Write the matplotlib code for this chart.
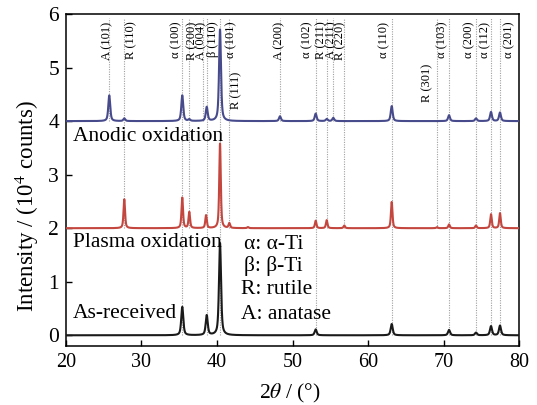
import numpy as np
import matplotlib
matplotlib.use("Agg")
import matplotlib.pyplot as plt

plt.rcParams['font.family'] = ['Liberation Serif', 'DejaVu Serif']
plt.rcParams['mathtext.fontset'] = 'stix'

# ---- data ----
# stacked offsets of each pattern (10^4 counts)
offset_anodic = 4.0
offset_plasma = 2.0
offset_asrec = 0.0

asrec_pos = [35.40, 38.64, 40.40, 53.07, 63.14, 70.73, 74.30, 76.29, 77.48]
asrec_int = [0.53, 0.37, 1.72, 0.11, 0.21, 0.10, 0.05, 0.17, 0.18]

plasma_pos = [27.72, 35.40, 36.33, 38.55, 40.40, 41.63, 44.10, 53.07, 54.53,
              56.86, 63.14, 69.14, 70.73, 74.30, 76.29, 77.48]
plasma_int = [0.54, 0.57, 0.30, 0.24, 1.58, 0.09, 0.02, 0.14, 0.15,
              0.05, 0.49, 0.02, 0.07, 0.05, 0.26, 0.28]

anodic_pos = [25.73, 27.72, 35.40, 36.33, 38.64, 40.40, 48.34, 53.07, 54.53,
              55.40, 63.14, 70.73, 74.30, 76.29, 77.48]
anodic_int = [0.48, 0.05, 0.48, 0.03, 0.26, 1.71, 0.09, 0.14, 0.04,
              0.06, 0.28, 0.11, 0.05, 0.17, 0.16]

# reference lines: position and the phase they belong to
ref_pos = [25.73, 27.72, 35.40, 36.33, 38.11, 38.64, 40.40, 41.63, 48.34, 53.07,
           54.53, 55.40, 56.86, 63.14, 69.14, 70.73, 74.30, 76.29, 77.48]
ref_phase = ['A', 'R', 'a', 'R', 'A', 'a', 'a', 'R', 'A', 'a',
             'R', 'A', 'R', 'a', 'R', 'a', 'a', 'a', 'a']

peak_labels = ["A (101)", "R (110)", "α (100)", "R (200)", "A (004)", "β (110)",
               "α (101)", "R (111)", "A (200)", "α (102)", "R (211)", "A (211)",
               "R (220)", "α (110)", "R (301)", "α (103)", "α (200)", "α (112)",
               "α (201)"]
label_x = [25.47, 28.6, 34.6, 36.75, 37.98, 39.5, 41.94, 42.6, 48.28, 52.0,
           53.85, 55.1, 56.35, 62.13, 67.88, 69.8, 73.4, 75.54, 78.68]
label_top = [5.86] * 7 + [4.92] + [5.86] * 6 + [5.08] + [5.86] * 4

legend_lines = ["α: α-Ti", "β: β-Ti", "R: rutile", "A: anatase"]

x_ticks = [20, 30, 40, 50, 60, 70, 80]
y_ticks = [0, 1, 2, 3, 4, 5, 6]


def pattern(x, pos, inten, fwhm):
    y = np.zeros_like(x)
    g = fwhm / 2.3548
    for p, h in zip(pos, inten):
        lor = 1.0 / (1.0 + ((x - p) / (fwhm / 2)) ** 2)
        gau = np.exp(-0.5 * ((x - p) / g) ** 2)
        y += h * (0.6 * lor + 0.4 * gau)
    return y


fig = plt.figure(figsize=(5.37, 4.05), dpi=100)
ax = fig.add_axes([0.1229, 0.1457, 0.8436, 0.8197])

x = np.linspace(20, 80, 6001)

# reference dotted lines
phase_bottom = {'a': offset_asrec, 'R': offset_plasma, 'A': offset_anodic}
for p, ph in zip(ref_pos, ref_phase):
    ax.plot([p, p], [phase_bottom[ph], 5.92], color='#a0a0a0', lw=0.8,
            ls=(0, (1, 1.2)), zorder=1)

ax.plot(x, offset_asrec + pattern(x, asrec_pos, asrec_int, 0.32),
        color='#1a1a1a', lw=1.5, zorder=3)
ax.plot(x, offset_plasma + pattern(x, plasma_pos, plasma_int, 0.24),
        color='#c4473f', lw=1.5, zorder=3)
ax.plot(x, offset_anodic + pattern(x, anodic_pos, anodic_int, 0.30),
        color='#474b8c', lw=1.5, zorder=3)

for t, lx, ly in zip(peak_labels, label_x, label_top):
    ax.text(lx, ly, t, rotation=90, ha='center', va='top', fontsize=9,
            zorder=4)

ax.text(20.9, 3.72, "Anodic oxidation", fontsize=15.5, va='center', ha='left')
ax.text(20.9, 1.73, "Plasma oxidation", fontsize=15.5, va='center', ha='left')
ax.text(20.9, 0.41, "As-received", fontsize=15.5, va='center', ha='left')

leg_x = [43.6, 43.6, 43.2, 43.2]
leg_y = [1.69, 1.29, 0.86, 0.39]
for t, lx, ly in zip(legend_lines, leg_x, leg_y):
    ax.text(lx, ly, t, fontsize=15.5, va='center', ha='left')

ax.set_xlim(20, 80)
ax.set_ylim(-0.2, 6)
ax.set_xticks(x_ticks)
ax.set_yticks(y_ticks)
ax.tick_params(direction='in', length=4, width=1)
ax.tick_params(axis='x', labelsize=14.5, pad=5)
ax.tick_params(axis='y', labelsize=15.5, pad=5)
for s in ax.spines.values():
    s.set_linewidth(1.1)

ax.set_xlabel(r"2$\theta$ / (°)", fontsize=15.5)
ax.set_ylabel(r"Intensity / (10$^{4}$ counts)", fontsize=16.5)
ax.xaxis.set_label_coords(0.494, -0.108)
ax.yaxis.set_label_coords(-0.056, 0.42)

fig.savefig("out.png", dpi=100)
